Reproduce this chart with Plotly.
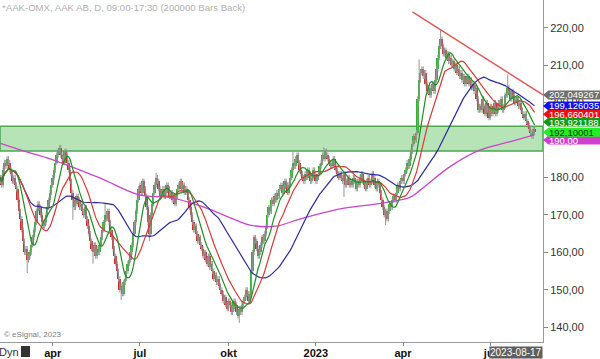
import pandas as pd
import plotly.graph_objects as go

# ---------------- data ----------------
last_date = "2023-08-17"
closes = [
    180, 178, 182, 184, 183, 185, 184, 182, 181, 179, 180, 178, 177,
    174, 171, 169, 166,
    163, 160, 161, 158, 159, 160, 162, 164,
    166, 168, 171, 173, 172, 170, 168,
    167, 168, 170, 172, 174,
    176, 178, 180, 182, 184, 186,
    187, 188, 186, 185,
    184, 187, 186, 184, 182, 179,
    176, 174, 172, 173, 175,
    174, 172, 173, 171, 170, 172, 169,
    167, 165, 163, 161, 160, 162, 159,
    161, 160, 162, 164, 166,
    168, 170, 169, 171, 168, 166,
    164, 161, 159, 157, 155,
    153, 150, 151, 149, 152,
    153, 155, 157, 158, 160, 162,
    165, 168, 171, 174, 177,
    178, 176, 179, 177,
    175, 172, 168, 165, 170,
    173, 176, 178, 180, 179, 177, 175,
    176, 177, 175, 176, 178, 177, 175, 176, 174, 175,
    173, 175, 177, 178, 179, 177, 178, 176, 177, 176,
    174, 172, 170, 168, 166, 167, 165, 163, 164, 162,
    161, 159, 160, 158, 157, 159, 156, 157,
    155, 153, 154, 152, 153, 151, 150,
    149, 147, 148, 146, 145, 147, 146, 144, 145, 147,
    146, 144, 143, 145, 144, 146, 147,
    148, 150, 149, 147, 149,
    155, 160, 164,
    163, 161, 159, 160, 162, 164, 163,
    165, 167, 170, 172, 171, 174, 173, 175, 174, 176, 175, 177,
    178, 176, 177, 179, 178, 176, 178, 180,
    182, 184, 183, 185, 186, 184, 182, 181, 180,
    179, 181, 180, 182, 181, 179, 180, 182, 181, 179, 180, 181, 183,
    184, 186, 185, 187, 186, 185, 184,
    183, 184, 185, 183, 182, 181, 180, 181,
    180, 179, 181, 178, 179, 180, 178,
    179, 178, 180, 179, 177, 179, 178, 180, 181, 179, 178, 177, 179, 180,
    178, 179, 181, 180, 178, 177, 179, 178, 176,
    174, 172, 170, 171, 169, 171, 173, 172, 174,
    175, 174, 176, 178, 177, 179, 180, 179,
    181, 182, 184, 183, 185,
    187, 189, 191, 190, 192,
    201, 206, 208,
    209, 207, 208, 205,
    203, 204, 202, 204, 205, 203, 206,
    209, 212, 215, 217, 215, 213, 214, 212,
    213, 211, 212, 210,
    211, 209, 210, 208, 209, 207, 208, 206, 207, 205, 206,
    207, 205, 206, 204, 205, 203, 204,
    201, 198, 199,
    198, 201, 199, 197, 200, 198, 196, 199, 197, 198, 200, 197,
    198, 200, 199, 201, 198, 199, 202,
    202, 204, 203, 201, 203, 202, 200, 201,
    201, 199, 200, 198, 197, 196, 197,
    195, 194, 193, 192, 191, 193, 192.1,
]
# notable wick extremes (bar index -> price)
low_spikes = {20: 154.5, 54: 168.7, 69: 157.0, 90: 147.3, 111: 163.0,
              178: 141.2, 256: 174.8, 287: 167.3}
high_spikes = {44: 188.6, 78: 173.0, 116: 181.2, 218: 186.8, 241: 188.1,
               312: 211.5, 328: 219.6, 378: 207.5}

ma200_dates = ["2022-02-07", "2022-03-04", "2022-03-30", "2022-05-20", "2022-07-01",
               "2022-08-02", "2022-09-02", "2022-10-10", "2022-10-25", "2022-11-21",
               "2022-12-15", "2023-01-26", "2023-03-09", "2023-04-10", "2023-04-20",
               "2023-05-22", "2023-06-21", "2023-07-24", "2023-08-17"]
ma200_values = [189.1, 186.9, 185.0, 179.9, 175.3, 174.7, 172.4, 168.7, 167.3, 167.0,
                168.9, 171.6, 173.1, 174.7, 176.7, 182.9, 187.3, 189.6, 191.4]

trend_dates = ["2023-04-12", "2023-08-25 07:00"]
trend_values = [224.2, 202.05]

band_low, band_high = 187.1, 193.7

label_values = [202.05, 199.1, 196.9, 190.0, 194.8, 192.1]
label_texts = ["202,049267", "199,126035", "196,660401", "190,00", "193,921188", "192,10001"]
label_colors = ["#6e6e6e", "#1010ee", "#ee1010", "#d040d0", "#129a12", "#22ee22"]
label_font_colors = ["white", "white", "white", "white", "white", "#0a3a0a"]

tick_dates = ["2022-04-01", "2022-07-01", "2022-10-03", "2023-01-02", "2023-04-03", "2023-07-03"]
tick_text = ["apr", "jul", "okt", "2023", "apr", "jul"]

# ---------------- derived ----------------
dates = pd.bdate_range(end=last_date, periods=len(closes))
s = pd.Series(closes, index=dates)
opens = [closes[0] - 1] + closes[:-1]
highs, lows = [], []
for i, (o, c) in enumerate(zip(opens, closes)):
    highs.append(high_spikes.get(i, max(o, c) + 0.7))
    lows.append(low_spikes.get(i, min(o, c) - 0.7))
ma10 = s.rolling(10, min_periods=1).mean()
ma20 = s.rolling(20, min_periods=1).mean()
ma50 = s.rolling(50, min_periods=1).mean()

fig = go.Figure()

# band
fig.add_shape(type="rect", xref="paper", yref="y", x0=0, x1=1, y0=band_low, y1=band_high,
              fillcolor="#b7e4b7", line=dict(color="#4aa84a", width=1.5), layer="below")

# wicks
wx, wy = [], []
for d, lo, hi in zip(dates, lows, highs):
    wx += [d, d, None]
    wy += [lo, hi, None]
fig.add_trace(go.Scatter(x=wx, y=wy, mode="lines", line=dict(color="#959595", width=1),
                         hoverinfo="skip"))
# bodies
base = [min(o, c) for o, c in zip(opens, closes)]
height = [max(abs(c - o), 0.35) for o, c in zip(opens, closes)]
cols = ["#35b035" if c >= o else "#cc2e2e" for o, c in zip(opens, closes)]
fig.add_trace(go.Bar(x=dates, y=height, base=base, marker=dict(color=cols, line=dict(width=0)),
                     width=86400000 * 1.4))

# moving averages
fig.add_trace(go.Scatter(x=ma200_dates, y=ma200_values, mode="lines",
                         line=dict(color="#cc44cc", width=1.3, shape="spline")))
fig.add_trace(go.Scatter(x=dates, y=ma50, mode="lines", line=dict(color="#2a2aa0", width=1.2)))
fig.add_trace(go.Scatter(x=dates, y=ma20, mode="lines", line=dict(color="#d83a3a", width=1.2)))
fig.add_trace(go.Scatter(x=dates, y=ma10, mode="lines", line=dict(color="#1f8f1f", width=1.2)))

# trendline
fig.add_trace(go.Scatter(x=trend_dates, y=trend_values, mode="lines",
                         line=dict(color="#e05a5a", width=1.5)))

# right-side value labels
h = 1.2
for v, t, c, fc in zip(label_values, label_texts, label_colors, label_font_colors):
    fig.add_shape(type="path", xref="paper", yref="y",
                  path=f"M 1.0,{v} L 1.01,{v + h} L 1.11,{v + h} L 1.11,{v - h} L 1.01,{v - h} Z",
                  fillcolor=c, line=dict(width=0), layer="above")
    fig.add_annotation(x=1.009, y=v, xref="paper", yref="y", text=t, showarrow=False,
                       xanchor="left", yanchor="middle", borderpad=0,
                       font=dict(family="Liberation Sans", size=9.5, color=fc))

# texts
fig.add_annotation(x=0.0, y=1.0, xref="paper", yref="paper", text="*AAK-OMX, AAK AB, D, 09:00-17:30 (200000 Bars Back)",
                   showarrow=False, xanchor="left", yanchor="top", yshift=0,
                   font=dict(family="Liberation Sans", size=9.6, color="#b0b0b0"))
fig.add_annotation(x=0.003, y=0.0, xref="paper", yref="paper", text="© eSignal, 2023",
                   showarrow=False, xanchor="left", yanchor="bottom", yshift=1,
                   font=dict(family="Liberation Sans", size=8, color="#808080"))
fig.add_annotation(x=0.0, y=0.0, xref="paper", yref="paper", text="Dyn",
                   showarrow=False, xanchor="left", yanchor="top", xshift=-3, yshift=-2,
                   font=dict(family="Liberation Sans", size=11, color="#333"))
fig.add_shape(type="rect", xref="paper", yref="paper", x0=21 / 543, x1=30 / 543,
              y0=-15 / 342, y1=-4 / 342, fillcolor="#333", line=dict(width=0))
fig.add_annotation(x=1.0, y=0.0, xref="paper", yref="paper", text="2023-08-17",
                   showarrow=False, xanchor="right", yanchor="top", yshift=-4,
                   bgcolor="#5f5f5f", borderpad=0,
                   font=dict(family="Liberation Sans", size=10, color="white"))

fig.update_layout(
    width=600, height=359, margin=dict(l=0, r=57, t=0, b=17, autoexpand=False),
    plot_bgcolor="white", paper_bgcolor="white", showlegend=False,
    separators=",.", bargap=0,
    font=dict(family="Liberation Sans", size=11, color="#333"),
)
fig.update_xaxes(type="date", range=["2022-02-04 17:00", "2023-08-25 07:00"],
                 rangebreaks=[dict(bounds=["sat", "mon"])],
                 tickmode="array", tickvals=tick_dates,
                 ticktext=[f"<b>{t}</b>" for t in tick_text],
                 ticks="outside", ticklen=3, tickcolor="#888", automargin=False,
                 ticklabelstandoff=-2,
                 showline=True, linecolor="#999", showgrid=False, zeroline=False,
                 tickfont=dict(size=11, color="#111"))
fig.update_yaxes(side="right", range=[136.08, 227.4], tick0=0, dtick=10, tickformat=".2f",
                 ticks="outside", ticklen=4, tickcolor="#888", automargin=False,
                 showline=True, linecolor="#999", showgrid=False, zeroline=False,
                 tickfont=dict(size=11, color="#333"))

fig.write_html("out.html", config={"displayModeBar": False},
               post_script="document.body.style.margin='0px';document.body.style.overflow='hidden';")
